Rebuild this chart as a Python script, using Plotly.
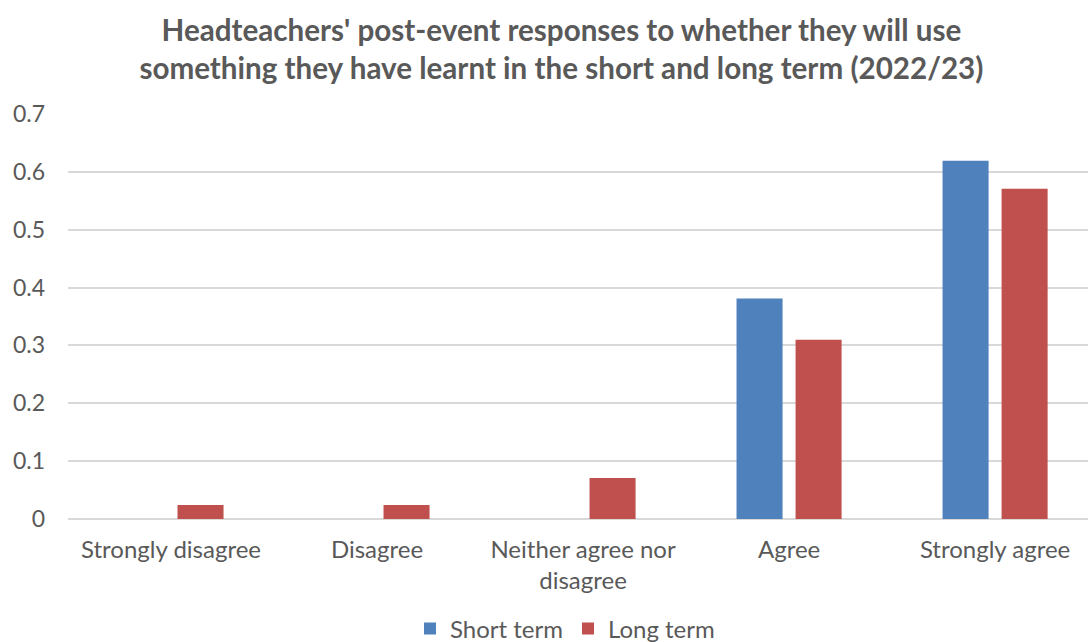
import plotly.graph_objects as go

categories = ["Strongly disagree", "Disagree", "Neither agree nor<br>disagree", "Agree", "Strongly agree"]
short_term = [0, 0, 0, 0.381, 0.619]
long_term = [0.024, 0.024, 0.071, 0.31, 0.571]
y_ticks = [0, 0.1, 0.2, 0.3, 0.4, 0.5, 0.6, 0.7]
y_tick_labels = ["0", "0.1", "0.2", "0.3", "0.4", "0.5", "0.6", "0.7"]

font_color = "#595959"
fig = go.Figure()
fig.add_trace(go.Bar(name="Short term", x=categories, y=short_term,
                     marker=dict(color="#4F81BD", line=dict(width=0))))
fig.add_trace(go.Bar(name="Long term", x=categories, y=long_term,
                     marker=dict(color="#C0504D", line=dict(width=0))))

fig.update_layout(
    width=1088, height=642,
    paper_bgcolor="white", plot_bgcolor="white",
    font=dict(family="Lato", size=24, color=font_color),
    barmode="group", bargap=0.427, bargroupgap=0.22,
    margin=dict(l=68, r=0, t=114, b=123, autoexpand=False),
    title=dict(
        text="Headteachers' post-event responses to whether they will use<br>something they have learnt in the short and long term (2022/23)",
        x=0.516, xanchor="center", xref="container",
        y=1 - 41 / 642, yanchor="middle", yref="container",
        font=dict(family="Lato", size=29.6, color=font_color, weight="bold"),
    ),
    xaxis=dict(
        type="category", range=[-0.5, 4.451],
        showgrid=False, showline=False, ticks="", ticklabelstandoff=14,
        tickfont=dict(size=24, color=font_color),
    ),
    yaxis=dict(
        range=[0, 0.7], tickvals=y_ticks, ticktext=y_tick_labels,
        showgrid=True, gridcolor="#D9D9D9", gridwidth=1.5,
        zeroline=True, zerolinecolor="#D9D9D9", zerolinewidth=1.5,
        showline=False, ticks="", ticklabelstandoff=22,
        tickfont=dict(size=23, color=font_color),
    ),
    legend=dict(
        orientation="h", x=565 / 1088, xanchor="center", xref="container",
        y=(642 - 629) / 642, yanchor="middle", yref="container",
        font=dict(size=24, color=font_color), traceorder="normal",
        itemwidth=30,
    ),
)

fig.write_html("out.html")
